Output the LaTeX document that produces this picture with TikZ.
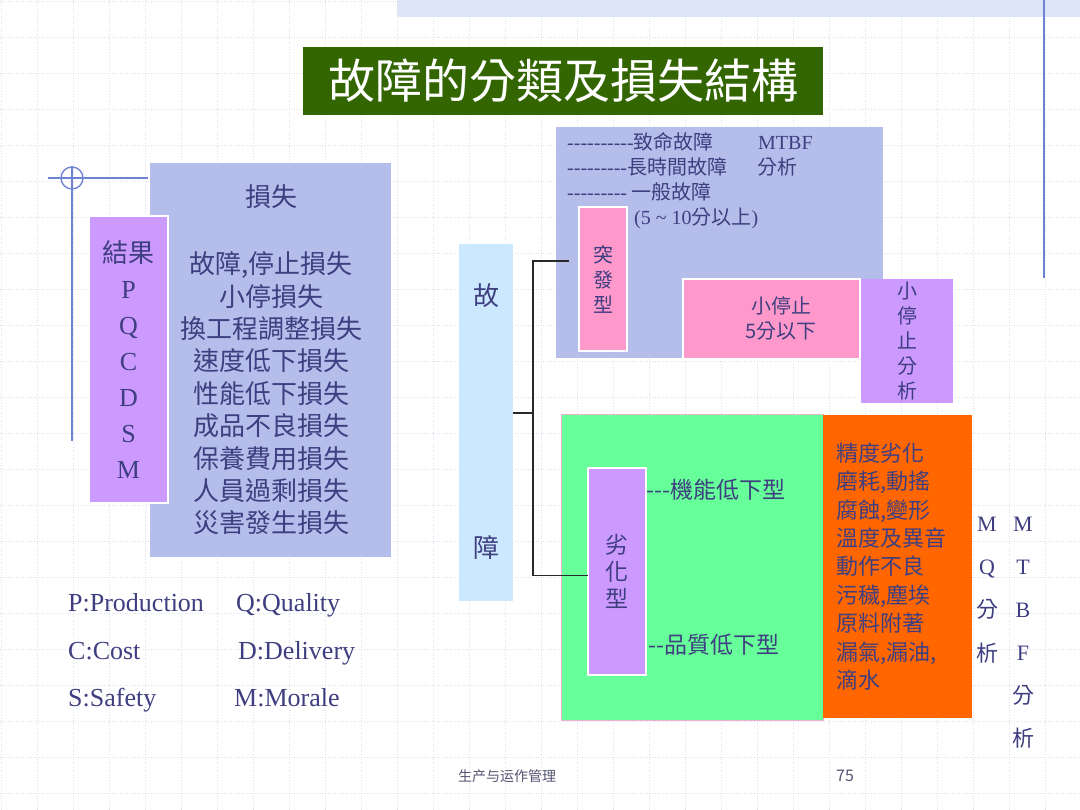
\documentclass[tikz,border=0pt]{standalone}
\usepackage{fontspec}
\setmainfont{Noto Sans CJK TC}[Ligatures=TeXOff]
\newfontfamily\serif{Liberation Serif}[Ligatures=TeXOff]
\newfontfamily\cjksc{Noto Sans CJK SC}
\usepackage{tikz}
\usetikzlibrary{positioning}
\definecolor{ink}{RGB}{62,62,128}
\definecolor{lav}{HTML}{B5BEEA}
\definecolor{vio}{HTML}{CC99FF}
\definecolor{sky}{HTML}{CCE8FF}
\definecolor{rose}{HTML}{FF99CC}
\definecolor{mint}{HTML}{66FF99}
\definecolor{orng}{HTML}{FF6600}
\definecolor{tgreen}{HTML}{336600}
\definecolor{gridc}{RGB}{222,226,238}
\definecolor{bandc}{RGB}{220,229,248}
\definecolor{decoc}{RGB}{110,132,210}
\definecolor{connc}{RGB}{40,40,40}
\definecolor{mintedge}{RGB}{232,180,205}
\definecolor{footc}{RGB}{85,85,115}
\newcommand{\fs}[2]{\fontsize{#1}{#2}\selectfont}

\begin{document}
\begin{tikzpicture}[x=1pt,y=-1pt,
  box/.style={rectangle,inner sep=0pt,outer sep=0pt,anchor=north west},
  edge/.style={draw=white,line width=1.2pt},
  txt/.style={text=ink,inner sep=0pt},
  conn/.style={line width=1.6pt,draw=connc},
  deco/.style={decoc,line width=1.4pt}]
\useasboundingbox (0,0) rectangle (1080,810);
\fill[white] (0,0) rectangle (1080,810);
\foreach \k in {0,...,30} \draw[gridc,dotted,line width=0.6pt] (1+36*\k,0) -- (1+36*\k,810);
\foreach \k in {0,...,22} \draw[gridc,dotted,line width=0.6pt] (0,1+36*\k) -- (1080,1+36*\k);
\fill[bandc] (397,0) rectangle (1080,17);
\draw[deco] (1044,0) -- (1044,278);

\node[box,fill=tgreen,minimum width=520pt,minimum height=68pt,text=white,font=\fs{47}{47}] (title) at (303,47) {故障的分類及損失結構};

\draw[deco] (48,178) -- (148,178);
\draw[deco] (72,166) -- (72,441);
\draw[deco] (72,178) circle (11);
\node[box,fill=lav,minimum width=241pt,minimum height=394pt] (loss) at (150,163) {};
\node[box,fill=vio,edge,minimum width=79pt,minimum height=287pt,txt,align=center,font=\fs{26}{36}] (result) at (89,216)
  {結果\\{\serif P}\\{\serif Q}\\{\serif C}\\{\serif D}\\{\serif S}\\{\serif M}};
\node[txt,font=\fs{26}{26}] (losshead) at (271,197) {損失};
\node[txt,align=center,font=\fs{26}{32.4}] (losslist) at (271,393.5)
  {故障,停止損失\\小停損失\\換工程調整損失\\速度低下損失\\性能低下損失\\成品不良損失\\保養費用損失\\人員過剩損失\\災害發生損失};

\node[txt,anchor=base west,font=\serif\fs{26}{26}] (pp) at (68,611) {P:Production};
\node[txt,anchor=base west,font=\serif\fs{26}{26}] (qq) at (236,611) {Q:Quality};
\node[txt,anchor=base west,font=\serif\fs{26}{26}] (cc) at (68,659) {C:Cost};
\node[txt,anchor=base west,font=\serif\fs{26}{26}] (dd) at (238,659) {D:Delivery};
\node[txt,anchor=base west,font=\serif\fs{26}{26}] (ss) at (68,706) {S:Safety};
\node[txt,anchor=base west,font=\serif\fs{26}{26}] (mm) at (234,706) {M:Morale};

\node[box,fill=sky,minimum width=54pt,minimum height=357pt] (guzhang) at (459,244) {};
\node[txt,font=\fs{26}{26}] (gu) at (486,296) {故};
\node[txt,font=\fs{26}{26}] (zhang) at (486,548) {障};

\node[box,fill=lav,minimum width=327pt,minimum height=231pt] (sudden) at (556,127) {};
\node[txt,anchor=base west,font=\fs{20}{20}] (fatal) at (567,149.5) {{\serif ----------}致命故障};
\node[txt,anchor=base west,font=\serif\fs{20}{20}] (mtbf) at (758,149.5) {MTBF};
\node[txt,anchor=base west,font=\fs{20}{20}] (long) at (567,174.5) {{\serif ---------}長時間故障};
\node[txt,anchor=base west,font=\fs{20}{20}] (fenxi) at (757,174.5) {分析};
\node[txt,anchor=base west,font=\fs{20}{20}] (normal) at (567,199.5) {{\serif ---------} 一般故障};
\node[txt,anchor=base west,font=\fs{20}{20}] (range) at (634,224.5) {{\serif (5 \textasciitilde\ 10}分以上{\serif )}};
\node[box,fill=rose,edge,minimum width=48pt,minimum height=144pt,txt,align=center,font=\fs{20}{25}] (tufa) at (579,207) {突\\發\\型};
\node[box,fill=rose,edge,minimum width=177pt,minimum height=80pt] (minor) at (683,279) {};
\node[txt,align=center,font=\fs{20}{25}] (minortext) at (781,318.5) {小停止\\5分以下};
\node[box,fill=vio,minimum width=92pt,minimum height=124pt,txt,align=center,font=\fs{20}{25}] (minorfx) at (861,279) {小\\停\\止\\分\\析};

\node[box,fill=mint,draw=mintedge,line width=0.8pt,minimum width=262pt,minimum height=306pt] (wear) at (561,414) {};
\node[box,fill=vio,edge,minimum width=58pt,minimum height=207pt,txt,align=center,font=\fs{23}{27}] (liehua) at (588,468) {劣\\化\\型};
\node[txt,anchor=west,font=\fs{23}{23}] (func) at (646,490) {---機能低下型};
\node[txt,anchor=west,font=\fs{23}{23}] (qual) at (648,645) {--品質低下型};
\node[box,fill=orng,minimum width=149pt,minimum height=303pt] (cause) at (823,415) {};
\node[txt,anchor=west,align=left,font=\fs{22}{28.4}] (causelist) at (836,566.5)
  {精度劣化\\磨耗,動搖\\腐蝕,變形\\溫度及異音\\動作不良\\污穢,塵埃\\原料附著\\漏氣,漏油,\\滴水};
\node[txt,align=center,font=\fs{22}{43.3}] (mq) at (987,590) {{\serif M}\\{\serif Q}\\分\\析};
\node[txt,align=center,font=\fs{22}{43}] (mtbfcol) at (1023,633) {{\serif M}\\{\serif T}\\{\serif B}\\{\serif F}\\分\\析};

\coordinate (fork) at (533,413);
\coordinate (top) at (569,261);
\draw[conn] (fork -| guzhang.east) -- (fork);
\draw[conn] (top) -| (fork) |- ([yshift=-4pt]liehua.west);

\node[text=footc,inner sep=0pt,font=\cjksc\fs{14}{14}] (foot) at (507,776) {生产与运作管理};
\node[text=footc,inner sep=0pt,font=\fs{16}{16}] (page) at (845,776) {75};
\end{tikzpicture}
\end{document}
